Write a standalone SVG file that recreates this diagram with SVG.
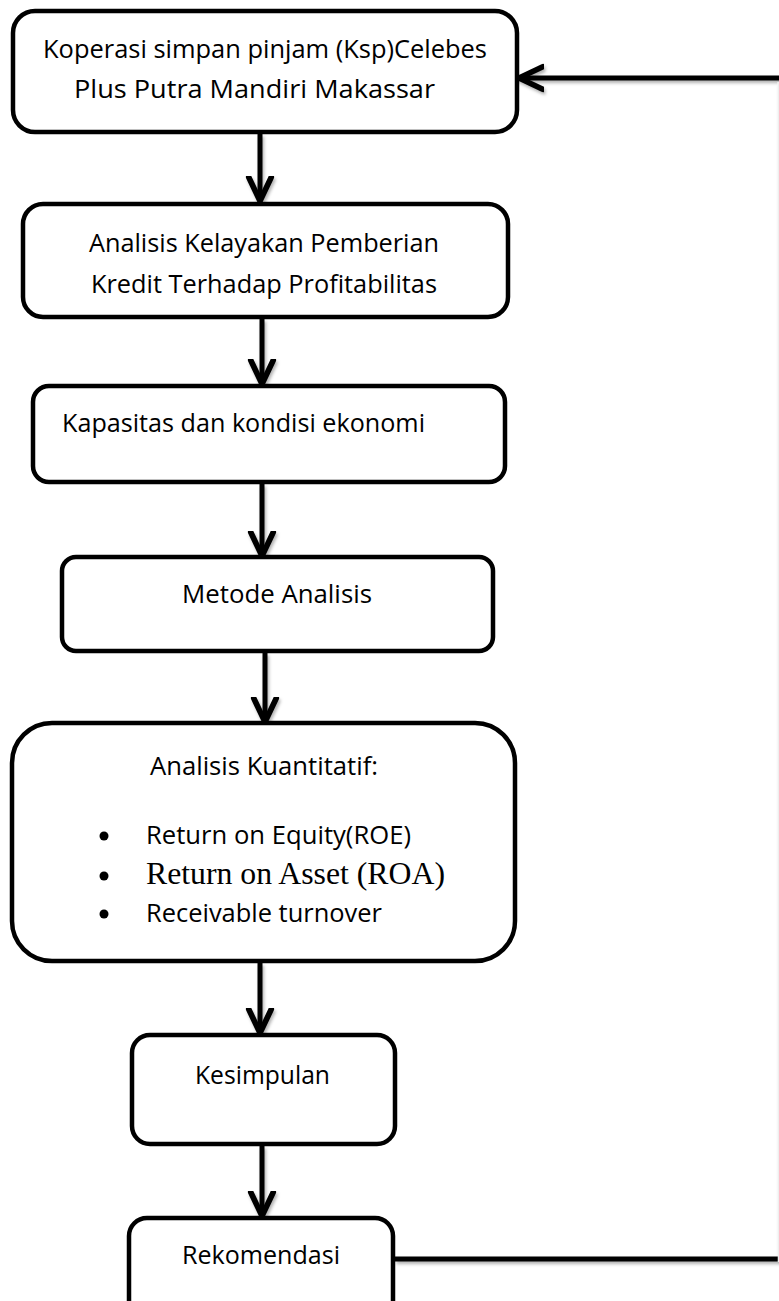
<svg xmlns="http://www.w3.org/2000/svg" width="779" height="1301" viewBox="0 0 779 1301">
<defs>
<style>
.box{fill:#fff;stroke:#000;stroke-width:4.5}
.t{font-family:"Open Sans","Noto Sans",sans-serif;font-size:25px;fill:#000}
.tr{font-family:"Liberation Serif","Times New Roman",serif;font-size:31px;fill:#000}
.ln{fill:none;stroke:#000;stroke-width:5;stroke-linejoin:round}
.ah{fill:none;stroke:#000;stroke-width:4.5;stroke-linecap:round;stroke-linejoin:round}
</style>
<filter id="sh" x="-10%" y="-10%" width="130%" height="130%">
<feDropShadow dx="1.5" dy="2.5" stdDeviation="1.5" flood-color="#000" flood-opacity="0.3"/>
</filter>
<marker id="arr" markerUnits="userSpaceOnUse" markerWidth="30" markerHeight="30" refX="20" refY="10" orient="auto" viewBox="0 0 24 20">
<path d="M1,1 L20,10 L1,19" class="ah"/>
</marker>
</defs>
<g id="connectors" filter="url(#sh)">
<line class="ln" x1="260" y1="134" x2="260" y2="201" marker-end="url(#arr)"/>
<line class="ln" x1="262" y1="319" x2="262" y2="384" marker-end="url(#arr)"/>
<line class="ln" x1="262" y1="484" x2="262" y2="556" marker-end="url(#arr)"/>
<line class="ln" x1="265" y1="653" x2="265" y2="722" marker-end="url(#arr)"/>
<line class="ln" x1="260" y1="963" x2="260" y2="1033" marker-end="url(#arr)"/>
<line class="ln" x1="262" y1="1146" x2="262" y2="1216" marker-end="url(#arr)"/>
<path class="ln" d="M395,1259 L790,1259 L790,78 L519,78" marker-end="url(#arr)"/>
<line x1="778.5" y1="82" x2="778.5" y2="1262" stroke="#eee" stroke-width="1.5"/>
</g>
<g id="n1">
<rect class="box" x="13" y="11" width="504" height="121" rx="22"/>
<text class="t" x="43" y="58" textLength="444" lengthAdjust="spacingAndGlyphs">Koperasi simpan pinjam (Ksp)Celebes</text>
<text class="t" x="74" y="98" textLength="361" lengthAdjust="spacingAndGlyphs">Plus Putra Mandiri Makassar</text>
</g>
<g id="n2">
<rect class="box" x="23" y="204" width="485" height="113" rx="20"/>
<text class="t" x="89" y="252" textLength="350" lengthAdjust="spacingAndGlyphs">Analisis Kelayakan Pemberian</text>
<text class="t" x="91" y="293" textLength="346" lengthAdjust="spacingAndGlyphs">Kredit Terhadap Profitabilitas</text>
</g>
<g id="n3">
<rect class="box" x="33" y="386" width="472" height="96" rx="16"/>
<text class="t" x="62" y="432" textLength="363" lengthAdjust="spacingAndGlyphs">Kapasitas dan kondisi ekonomi</text>
</g>
<g id="n4">
<rect class="box" x="62" y="557" width="431" height="94" rx="14"/>
<text class="t" x="182" y="603" textLength="190" lengthAdjust="spacingAndGlyphs">Metode Analisis</text>
</g>
<g id="n5">
<rect class="box" x="12" y="723" width="503" height="238" rx="40"/>
<text class="t" x="150" y="775" textLength="228" lengthAdjust="spacingAndGlyphs">Analisis Kuantitatif:</text>
<circle cx="104" cy="836" r="4.5"/>
<text class="t" x="146" y="844" textLength="265" lengthAdjust="spacingAndGlyphs">Return on Equity(ROE)</text>
<circle cx="104" cy="876" r="4.5"/>
<text class="tr" x="146" y="884" textLength="299" lengthAdjust="spacingAndGlyphs">Return on Asset (ROA)</text>
<circle cx="104" cy="914" r="4.5"/>
<text class="t" x="146" y="922" textLength="236" lengthAdjust="spacingAndGlyphs">Receivable turnover</text>
</g>
<g id="n6">
<rect class="box" x="132" y="1035" width="263" height="109" rx="18"/>
<text class="t" x="195" y="1084" textLength="135" lengthAdjust="spacingAndGlyphs">Kesimpulan</text>
</g>
<g id="n7">
<rect class="box" x="129" y="1218" width="264" height="109" rx="18"/>
<text class="t" x="182" y="1264" textLength="158" lengthAdjust="spacingAndGlyphs">Rekomendasi</text>
</g>
</svg>
